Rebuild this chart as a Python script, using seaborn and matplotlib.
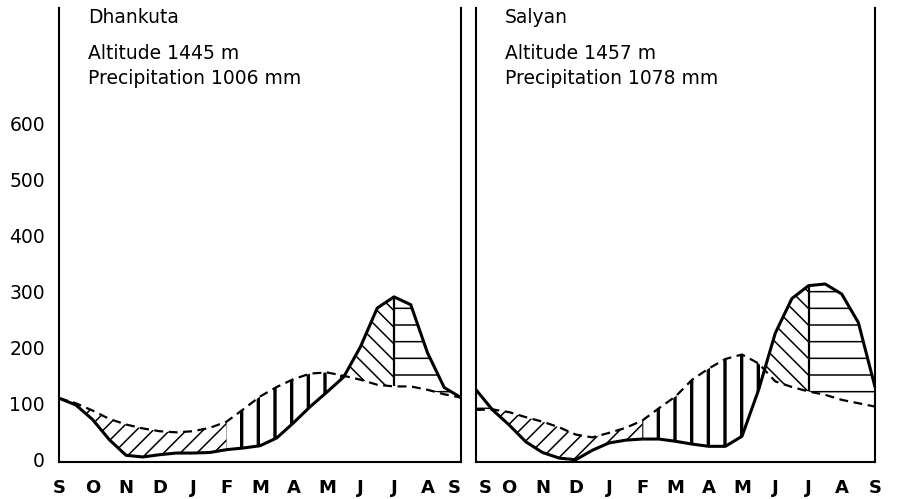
import matplotlib
matplotlib.use("Agg")
import matplotlib.pyplot as plt
import matplotlib.transforms as mtransforms
import seaborn as sns

# x positions in months, 0 = 1 Sept ... 12 = next 1 Sept (half-month steps)
month_pos = [0, 0.5, 1, 1.5, 2, 2.5, 3, 3.5, 4, 4.5, 5, 5.5, 6,
             6.5, 7, 7.5, 8, 8.5, 9, 9.5, 10, 10.5, 11, 11.5, 12]
month_labels = ["S", "O", "N", "D", "J", "F", "M", "A", "M", "J", "J", "A", "S"]
month_ticks = [0, 1, 2, 3, 4, 5, 6, 7, 8, 9, 10, 11, 12]
y_ticks = [0, 100, 200, 300, 400, 500, 600]

# Dhankuta: precipitation (solid) and evaporation (dashed), mm
dh_precip = [110, 98, 72, 36, 8, 5, 9, 12, 12, 13, 18, 21, 25,
             39, 66, 95, 121, 148, 202, 271, 291, 277, 191, 129, 111]
dh_evap = [110, 101, 88, 73, 63, 56, 51, 49, 51, 57, 68, 90, 113,
           130, 144, 154, 156, 150, 143, 134, 131, 131, 125, 117, 111]

# Salyan
sa_precip = [125, 89, 62, 32, 13, 3, 0, 17, 30, 35, 37, 37, 33,
             28, 24, 24, 42, 125, 226, 288, 311, 314, 296, 245, 130]
sa_evap = [89, 90, 85, 76, 68, 58, 45, 40, 48, 57, 70, 92, 113,
           143, 163, 180, 188, 172, 140, 130, 122, 116, 107, 101, 95]

stations = [
    ("Dhankuta", "Altitude 1445 m", "Precipitation 1006 mm", dh_precip, dh_evap),
    ("Salyan", "Altitude 1457 m", "Precipitation 1078 mm", sa_precip, sa_evap),
]

# hatch periods: (x start, x end, hatch, wet?, hatch line width)
periods = [
    (0, 1, "-", True, 1.1),
    (0, 5, "//", False, 1.1),
    (5, 10, "|", False, 2.4),
    (6, 10, "\\\\", True, 1.1),
    (10, 12, "-", True, 1.1),
]

sns.set_theme(style="white")
plt.rcParams["font.family"] = ["DejaVu Sans"]
plt.rcParams["text.color"] = "black"
plt.rcParams["xtick.color"] = "black"
plt.rcParams["ytick.color"] = "black"
plt.rcParams["hatch.linewidth"] = 1.1
plt.rcParams["hatch.color"] = "black"


def draw_panel(ax, name, alt, prec, precip, evap, show_y):
    for x0, x1, hatch, wet, hlw in periods:
        idx = [i for i, m in enumerate(month_pos) if x0 <= m <= x1]
        xs = [month_pos[i] for i in idx]
        p = [precip[i] for i in idx]
        e = [evap[i] for i in idx]
        mask = [(pi >= ei) if wet else (ei >= pi) for pi, ei in zip(p, e)]
        with plt.rc_context({"hatch.linewidth": hlw}):
            coll = ax.fill_between(xs, e, p, where=mask, interpolate=True,
                                   facecolor="none", edgecolor="black",
                                   linewidth=0, hatch=hatch)
        if hasattr(coll, "set_hatch_linewidth"):
            coll.set_hatch_linewidth(hlw)

    # divider at start of July
    j = month_pos.index(10)
    ax.vlines(month_pos[j], evap[j], precip[j], color="black", linewidth=1.6)

    sns.lineplot(x=month_pos, y=precip, ax=ax, color="black", linewidth=2.2)
    sns.lineplot(x=month_pos, y=evap, ax=ax, color="black", linewidth=1.6,
                 linestyle=(0, (4, 2.5)))

    ax.set_xlim(0, 12)
    ax.set_ylim(-4, 807)
    ax.set_xticks(month_ticks)
    ax.set_xticklabels(month_labels, fontsize=13, fontweight="bold")
    ax.set_yticks(y_ticks)
    if show_y:
        ax.set_yticklabels([str(v) for v in y_ticks], fontsize=13.5)
    else:
        ax.set_yticklabels([])
    ax.tick_params(axis="x", length=0, pad=12)
    ax.tick_params(axis="y", length=0, pad=10)
    ax.set_xlabel("")
    ax.set_ylabel("")
    ax.grid(False)

    ax.spines["top"].set_visible(False)
    for s in ["left", "right", "bottom"]:
        ax.spines[s].set_color("black")
        ax.spines[s].set_linewidth(1.5)

    ax.text(0.072, 0.978, name, transform=ax.transAxes, fontsize=13.5, va="center")
    ax.text(0.072, 0.900, alt, transform=ax.transAxes, fontsize=13.5, va="center")
    ax.text(0.072, 0.845, prec, transform=ax.transAxes, fontsize=13.5, va="center")


fig = plt.figure(figsize=(9.01, 4.99), dpi=100)
ax_left = fig.add_axes([59 / 901, 37 / 499, 402 / 901, 454 / 499])
ax_right = fig.add_axes([476 / 901, 37 / 499, 399 / 901, 454 / 499])

for ax, (name, alt, prec, precip, evap), show_y in zip(
        [ax_left, ax_right], stations, [True, False]):
    draw_panel(ax, name, alt, prec, precip, evap, show_y)

# pull the shared "S" labels apart a little, as in the original
shift_l = mtransforms.ScaledTranslation(-5 / 72, 0, fig.dpi_scale_trans)
shift_r = mtransforms.ScaledTranslation(7 / 72, 0, fig.dpi_scale_trans)
lab_l = ax_left.get_xticklabels()[-1]
lab_l.set_transform(lab_l.get_transform() + shift_l)
lab_r = ax_right.get_xticklabels()[0]
lab_r.set_transform(lab_r.get_transform() + shift_r)

fig.savefig("out.png", dpi=100, facecolor="white")
